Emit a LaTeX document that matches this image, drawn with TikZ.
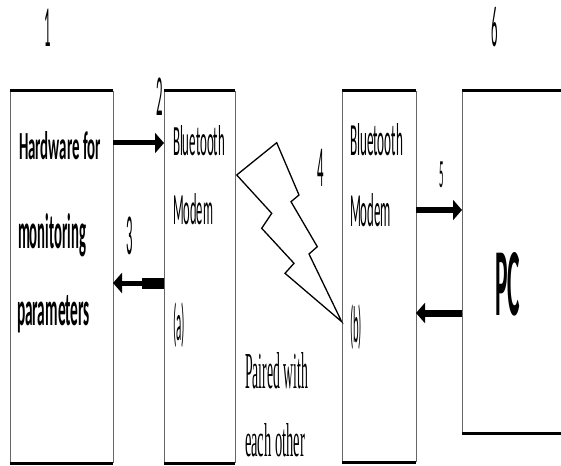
\documentclass[tikz,border=0pt]{standalone}
\usepackage{fontspec}
\usepackage{graphicx}
\setmainfont{Carlito}
\newfontfamily\seriffont{Liberation Serif}
\usetikzlibrary{arrows.meta}
\newcommand\fitbox[3]{\resizebox{#1}{#2}{#3}}
\newcommand\digitlbl[2]{\scalebox{0.22}[1]{\fontsize{#1}{#1}\selectfont #2}}
\begin{document}
\begin{tikzpicture}[x=1pt,y=-1pt,
  boxnode/.style={rectangle, inner sep=0, outer sep=0, draw=none, anchor=north west},
  side/.style={line width=0.9pt, draw=black!60},
  rule/.style={line width=3pt, draw=black},
  txt/.style={inner sep=0, outer sep=0, anchor=base west},
  arr/.style={draw=black, -{Triangle[length=9pt,width=20pt]}},
  num/.style={inner sep=0, outer sep=0, anchor=center},
  bolt/.style={draw=black, line width=1.3pt, line join=miter}]
\useasboundingbox (0,0) rectangle (561,465);
\fill[white] (0,0) rectangle (561,465);

% boxes
\node[boxnode, minimum width=103pt, minimum height=372pt] (b1) at (10,91) {};
\node[boxnode, minimum width=71pt, minimum height=372pt] (b2) at (164,91) {};
\node[boxnode, minimum width=74pt, minimum height=371pt] (b3) at (342,91) {};
\node[boxnode, minimum width=99pt, minimum height=342pt] (b4) at (462,91) {};

\foreach \b in {b1,b2,b3} {
  \draw[side] (\b.north west) -- (\b.south west) (\b.north east) -- (\b.south east);
  \draw[rule] (\b.north west) -- (\b.north east) (\b.south west) -- (\b.south east);
}
\draw[side] (b4.north west) -- (b4.south west);
\draw[rule] (b4.north west) -- (b4.north east) (b4.south west) -- (b4.south east);

% arrows
\coordinate (r1) at (0,143);
\coordinate (r3) at (0,283);
\coordinate (k3) at (142,283);
\coordinate (r5) at (0,210);
\coordinate (r6) at (0,313);
\draw[arr, line width=5pt] (b1.east |- r1) -- (b2.west |- r1);
\draw[line width=11pt] (b2.west |- r3) -- (k3);
\draw[arr, line width=5pt] (k3) -- (b1.east |- r3);
\draw[arr, line width=6pt] (b3.east |- r5) -- (b4.west |- r5);
\draw[arr, line width=7pt] (b4.west |- r6) -- (b3.east |- r6);

% lightning
\draw[bolt] (236.7,175) -- (276.7,142.7) -- (299,195) -- (291,201.7) -- (317.3,246.7) -- (309,254) -- (341.7,321.7) -- (285,273.3) -- (294,263.3) -- (261.7,228.3) -- (271.7,213.3) -- cycle;

% texts
\node[txt] (h1) at (19,160) {\fitbox{82pt}{28pt}{\bfseries Hardware for}};
\node[txt] (h2) at (18,248) {\fitbox{68pt}{35pt}{\bfseries monitoring}};
\node[txt] (h3) at (17,325) {\fitbox{73pt}{30pt}{\bfseries parameters}};
\node[txt] (m1) at (173,155) {\fitbox{52pt}{30pt}{Bluetooth}};
\node[txt] (m2) at (173,224) {\fitbox{40pt}{31pt}{Modem}};
\node[inner sep=0, outer sep=0, anchor=north west] (m3) at (173,303) {\resizebox*{12pt}{45pt}{(a)}};
\node[txt] (n1) at (350,156) {\fitbox{53pt}{32pt}{Bluetooth}};
\node[txt] (n2) at (350,226) {\fitbox{41pt}{33pt}{Modem}};
\node[inner sep=0, outer sep=0, anchor=north west] (n3) at (350,305) {\resizebox*{12pt}{45pt}{(b)}};
\node[txt] (pc) at (495,315) {\fitbox{25pt}{63pt}{\bfseries PC}};
\node[txt] (p1) at (245,388) {\fitbox{63pt}{36pt}{\seriffont Paired with}};
\node[txt] (p2) at (245,456) {\fitbox{60pt}{33pt}{\seriffont each other}};

% numbers
\node[num] (d1) at (48,27.5) {\digitlbl{58}{1}};
\node[num] (d2) at (160,96.5) {\digitlbl{58}{2}};
\node[num] (d3) at (130,236) {\digitlbl{58}{3}};
\node[num] (d4) at (321,167.5) {\digitlbl{58}{4}};
\node[num] (d5) at (441.5,175) {\digitlbl{40}{5}};
\node[num] (d6) at (494.5,27.5) {\digitlbl{58}{6}};
\end{tikzpicture}
\end{document}
